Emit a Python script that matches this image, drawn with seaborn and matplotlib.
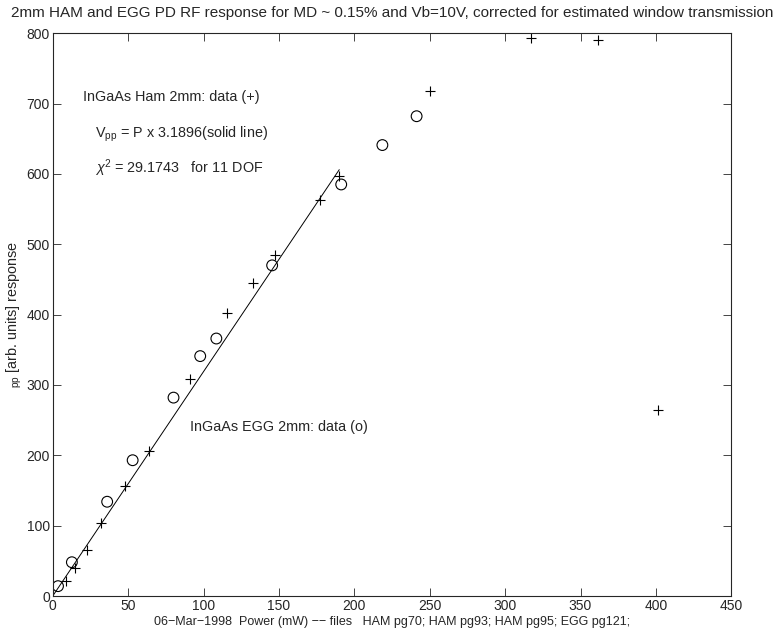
import numpy as np
import matplotlib
matplotlib.use('Agg')
import matplotlib.pyplot as plt
import seaborn as sns

# HAM photodiode data (+)
ham_power = [8.6, 14.5, 22.8, 31.7, 47.6, 64.0, 91.0, 115.8, 132.8, 147.3,
             177.2, 189.6, 250.3, 317.2, 361.3, 401.6]
ham_resp = [21, 40, 65, 104, 156, 206, 309, 402, 445, 485,
            563, 597, 718, 793, 790, 264]

# EGG photodiode data (o)
egg_power = [3.5, 12.7, 36.1, 53.0, 80.1, 97.8, 108.5, 145.5, 191.3, 218.6, 241.3]
egg_resp = [14, 48, 134, 193, 282, 341, 366, 470, 585, 641, 682]

# linear fit to HAM data
fit_slope = 3.1896
fit_power = np.array([0.0, 190.0])
fit_resp = fit_slope * fit_power

sns.set_style('ticks')
plt.rcParams['font.family'] = ['Liberation Sans', 'DejaVu Sans']
plt.rcParams['mathtext.fontset'] = 'custom'
plt.rcParams['mathtext.rm'] = 'Liberation Sans'
plt.rcParams['mathtext.it'] = 'Liberation Sans:italic'
plt.rcParams['xtick.direction'] = 'in'
plt.rcParams['ytick.direction'] = 'in'

fig = plt.figure(figsize=(7.8, 6.41), dpi=100)
ax = fig.add_axes([0.0676, 0.0702, 0.870, 0.878])

sns.lineplot(x=fit_power, y=fit_resp, color='black', lw=0.7, ax=ax)
sns.scatterplot(x=ham_power, y=ham_resp, marker='+', color='black',
                s=55, linewidth=0.8, ax=ax)
sns.scatterplot(x=egg_power, y=egg_resp, marker='o', facecolor='none',
                edgecolor='black', s=60, linewidth=0.8, ax=ax)

ax.set_xlim(0, 450)
ax.set_ylim(0, 800)
ax.set_xticks(np.arange(0, 451, 50))
ax.set_yticks(np.arange(0, 801, 100))
ax.tick_params(top=True, right=True, labelsize=10, length=6, width=0.6, pad=2)
for sp in ax.spines.values():
    sp.set_linewidth(0.8)

ax.text(20, 703, 'InGaAs Ham 2mm: data (+)', fontsize=10.4)
ax.text(28, 652, r'V$_{\rm pp}$ = P x 3.1896(solid line)', fontsize=10.4)
ax.text(28, 601, r'$\chi^2$ = 29.1743   for 11 DOF', fontsize=10.4)
ax.text(91, 234, 'InGaAs EGG 2mm: data (o)', fontsize=10.4)

ax.set_title('2mm HAM and EGG PD RF response for MD ~ 0.15% and Vb=10V, '
             'corrected for estimated window transmission', fontsize=11, pad=12)
ax.set_xlabel('06\u2212Mar\u22121998  Power (mW) \u2212\u2212 files   '
              'HAM pg70; HAM pg93; HAM pg95; EGG pg121;', fontsize=9.0, labelpad=2)
ax.set_ylabel(r'$_{\rm pp}$ [arb. units] response', fontsize=10.4, labelpad=2)

fig.savefig('out.png', dpi=100)
